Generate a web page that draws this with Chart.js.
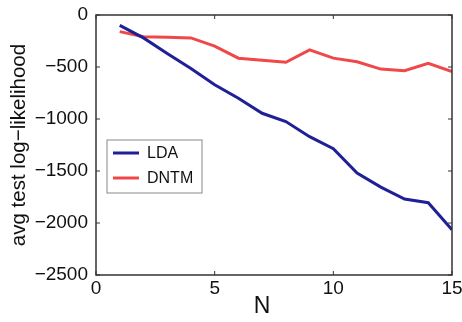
<!DOCTYPE html>
<html>
<head>
<meta charset="utf-8">
<script src="https://cdn.jsdelivr.net/npm/chart.js@4.4.1/dist/chart.umd.min.js"></script>
<style>
  body { margin: 0; background: #fff; }
  #wrap { width: 462px; height: 322px; }
</style>
</head>
<body>
<div id="wrap"><canvas id="chart" width="462" height="322"></canvas></div>
<script>
// values
const nValues = [1, 2, 3, 4, 5, 6, 7, 8, 9, 10, 11, 12, 13, 14, 15];
const ldaValues = [-100, -220, -370, -515, -670, -800, -945, -1025, -1170, -1285, -1520, -1655, -1770, -1805, -2065];
const dntmValues = [-160, -210, -215, -220, -300, -415, -435, -455, -335, -415, -450, -520, -535, -465, -545];
const xTicks = [0, 5, 10, 15];
const yTicks = [0, -500, -1000, -1500, -2000, -2500];

const fontFamily = '"Liberation Sans", Arial, sans-serif';
const axisColor = '#333';

function fmt(v) {
    return v < 0 ? '\u2212' + Math.abs(v) : String(v);
}

// box, inward ticks, legend and axis titles in the matlab style
const matlabAxes = {
    id: 'matlabAxes',
    afterDraw(chart) {
        const ctx = chart.ctx;
        const area = chart.chartArea;
        const x = chart.scales.x;
        const y = chart.scales.y;
        ctx.save();
        ctx.strokeStyle = axisColor;
        ctx.lineWidth = 1.5;
        ctx.strokeRect(area.left, area.top, area.right - area.left, area.bottom - area.top);

        ctx.lineWidth = 1;
        ctx.beginPath();
        xTicks.forEach(t => {
            const px = x.getPixelForValue(t);
            ctx.moveTo(px, area.bottom); ctx.lineTo(px, area.bottom - 4);
            ctx.moveTo(px, area.top); ctx.lineTo(px, area.top + 4);
        });
        yTicks.forEach(t => {
            const py = y.getPixelForValue(t);
            ctx.moveTo(area.left, py); ctx.lineTo(area.left + 4, py);
            ctx.moveTo(area.right, py); ctx.lineTo(area.right - 4, py);
        });
        ctx.stroke();

        // legend
        const lx = 107, ly = 140, lw = 95, lh = 53;
        ctx.fillStyle = '#fff';
        ctx.fillRect(lx, ly, lw, lh);
        ctx.strokeStyle = '#888';
        ctx.lineWidth = 1;
        ctx.strokeRect(lx, ly, lw, lh);
        ctx.font = '16px ' + fontFamily;
        ctx.textBaseline = 'middle';
        chart.data.datasets.forEach((ds, i) => {
            const yy = ly + 13 + i * 25;
            ctx.strokeStyle = ds.borderColor;
            ctx.lineWidth = 3;
            ctx.beginPath();
            ctx.moveTo(lx + 6, yy); ctx.lineTo(lx + 32, yy);
            ctx.stroke();
            ctx.fillStyle = '#111';
            ctx.fillText(ds.label, lx + 40, yy + 1);
        });

        // axis titles
        ctx.fillStyle = '#111';
        ctx.font = '23px ' + fontFamily;
        ctx.textAlign = 'center';
        ctx.textBaseline = 'middle';
        ctx.fillText('N', 262, 307);
        ctx.save();
        ctx.translate(19, (area.top + area.bottom) / 2);
        ctx.rotate(-Math.PI / 2);
        ctx.font = '20.5px ' + fontFamily;
        ctx.fillText('avg test log\u2212likelihood', 0, 0);
        ctx.restore();
        ctx.restore();
    }
};

new Chart(document.getElementById('chart'), {
    type: 'line',
    data: {
        datasets: [
            {
                label: 'LDA',
                data: nValues.map((n, i) => ({ x: n, y: ldaValues[i] })),
                borderColor: '#1f1f96',
                borderWidth: 3,
                pointRadius: 0,
                tension: 0
            },
            {
                label: 'DNTM',
                data: nValues.map((n, i) => ({ x: n, y: dntmValues[i] })),
                borderColor: '#f04848',
                borderWidth: 3,
                pointRadius: 0,
                tension: 0
            }
        ]
    },
    options: {
        responsive: false,
        animation: false,
        layout: { padding: { top: 15, right: 10, left: 0, bottom: 0 } },
        plugins: {
            legend: { display: false },
            tooltip: { enabled: false }
        },
        scales: {
            x: {
                type: 'linear',
                min: 0,
                max: 15,
                afterBuildTicks: s => { s.ticks = xTicks.map(v => ({ value: v })); },
                afterFit: s => { s.height = 47; },
                grid: { display: false },
                border: { display: false },
                ticks: {
                    color: '#111',
                    padding: -6,
                    maxRotation: 0,
                    font: { family: fontFamily, size: 19 },
                    callback: v => fmt(v)
                }
            },
            y: {
                min: -2500,
                max: 0,
                afterBuildTicks: s => { s.ticks = yTicks.map(v => ({ value: v })); },
                afterFit: s => { s.width = 96; },
                grid: { display: false },
                border: { display: false },
                ticks: {
                    color: '#111',
                    padding: 0,
                    font: { family: fontFamily, size: 19 },
                    callback: v => fmt(v)
                }
            }
        }
    },
    plugins: [matlabAxes]
});
</script>
</body>
</html>
